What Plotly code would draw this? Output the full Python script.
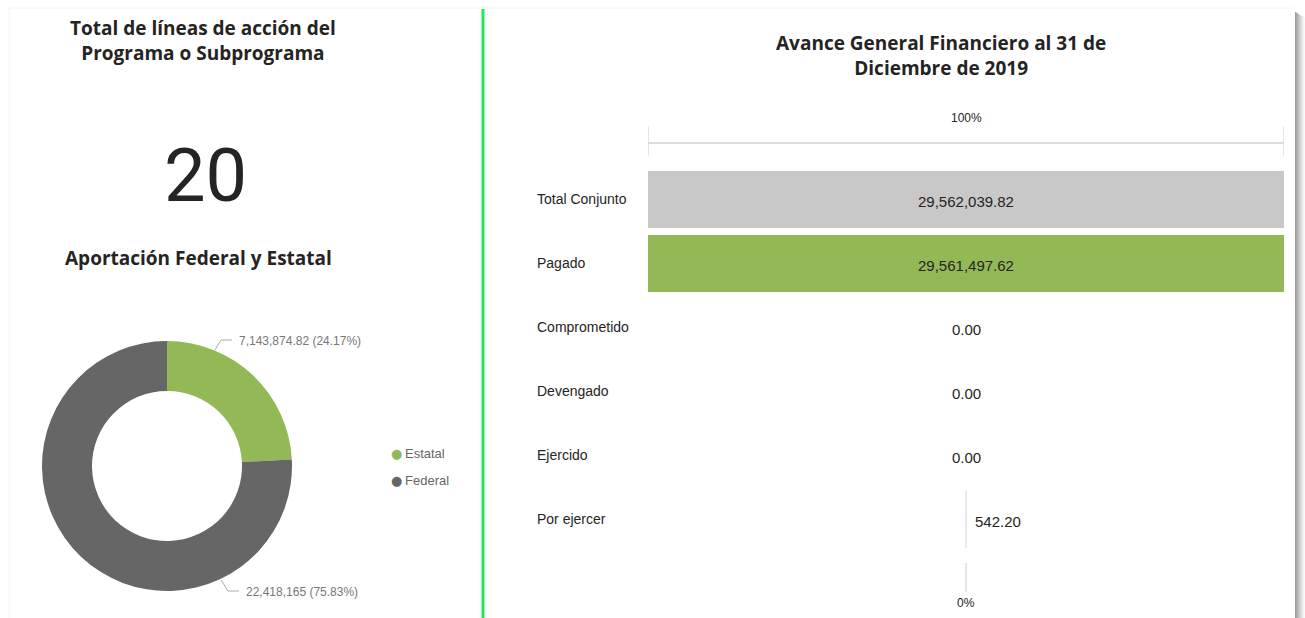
import plotly.graph_objects as go

W, H = 1305, 618

# ---- data ----
total_lineas = 20

aport_labels = ["Estatal", "Federal"]
aport_values = [7143874.82, 22418165]
aport_colors = ["#93B956", "#666666"]

etapas = ["Total Conjunto", "Pagado", "Comprometido", "Devengado", "Ejercido", "Por ejercer"]
montos = [29562039.82, 29561497.62, 0.00, 0.00, 0.00, 542.20]
etapa_colors = ["#C8C8C8", "#93B956", "#93B956", "#93B956", "#93B956", "#C8C8C8"]


def px_x(x):
    return x / W


def px_y(y):
    return 1 - y / H


def fmt_money(v, decimals=2):
    return f"{v:,.{decimals}f}"


def fmt_auto(v):
    return fmt_money(v, 0) if float(v).is_integer() else fmt_money(v, 2)


TITLE_FONT = dict(family="Open Sans", size=19, color="#252423")
LABEL_FONT = "Liberation Sans"

fig = go.Figure()

# ---- donut: federal vs estatal ----
fig.add_trace(go.Pie(
    labels=aport_labels,
    values=aport_values,
    marker=dict(colors=aport_colors, line=dict(width=0)),
    hole=0.6,
    sort=False,
    direction="clockwise",
    rotation=0,
    textinfo="none",
    showlegend=False,
    hoverinfo="label+value+percent",
    domain=dict(x=[px_x(42), px_x(292)], y=[px_y(591), px_y(341)]),
))

# ---- funnel: centred horizontal bars ----
M = max(montos)
fig.add_trace(go.Bar(
    y=etapas,
    x=montos,
    base=[-v / 2 for v in montos],
    orientation="h",
    marker=dict(color=etapa_colors,
                line=dict(color=["rgba(0,0,0,0)"] * 5 + ["#E2E2E2"],
                          width=[0] * 5 + [1])),
    showlegend=False,
    hoverinfo="skip",
))

fig.update_layout(
    width=W, height=H,
    margin=dict(l=0, r=0, t=0, b=0),
    paper_bgcolor="white",
    plot_bgcolor="white",
    bargap=0.11,
    xaxis=dict(domain=[px_x(648), px_x(1284)], range=[-M / 2, M / 2],
               visible=False, fixedrange=True),
    yaxis=dict(domain=[px_y(551.5), px_y(167.5)], type="category",
               categoryorder="array", categoryarray=etapas,
               autorange="reversed", visible=False),
)

ann = []


def add_text(x, y, text, font, xanchor="center", xref="paper", yref="paper", **kw):
    ann.append(dict(x=x, y=y, xref=xref, yref=yref, text=text, showarrow=False,
                    xanchor=xanchor, yanchor="middle", font=font, **kw))


# left panel texts
add_text(px_x(203), px_y(40),
         "<b>Total de líneas de acción del<br>Programa o Subprograma</b>",
         TITLE_FONT, align="center")
add_text(px_x(205), px_y(176), str(total_lineas),
         dict(family="Roboto", size=74, color="#252423"))
add_text(px_x(198), px_y(258), "<b>Aportación Federal y Estatal</b>", TITLE_FONT)

# donut data labels with leader lines
total_aport = sum(aport_values)
pie_lbl_pos = [(237, 341), (244, 592)]
for v, (lx, ly) in zip(aport_values, pie_lbl_pos):
    add_text(px_x(lx), px_y(ly), f"{fmt_auto(v)} ({v / total_aport * 100:.2f}%)",
             dict(family=LABEL_FONT, size=12, color="#777777"), xanchor="left")

# legend
for i, (lab, col) in enumerate(zip(aport_labels, aport_colors)):
    yy = 453 + i * 27
    add_text(px_x(389), px_y(yy), "●",
             dict(family="DejaVu Sans", size=13, color=col), xanchor="left")
    add_text(px_x(403), px_y(yy), lab,
             dict(family=LABEL_FONT, size=13, color="#666666"), xanchor="left")

# right panel title
add_text(px_x(941), px_y(55),
         "<b>Avance General Financiero al 31 de<br>Diciembre de 2019</b>",
         TITLE_FONT, align="center")

# funnel scale labels
add_text(0, px_y(118), "100%", dict(family=LABEL_FONT, size=12, color="#252423"), xref="x")
add_text(0, px_y(603), "0%", dict(family=LABEL_FONT, size=12, color="#252423"), xref="x")

# category labels and values
for et, v in zip(etapas, montos):
    add_text(px_x(535), et, et, dict(family=LABEL_FONT, size=14, color="#252423"),
             xanchor="left", yref="y", yshift=1)
    small = (v > 0) and (v / M < 0.05)
    add_text(0, et, fmt_money(v), dict(family=LABEL_FONT, size=15, color="#252423"),
             xref="x", yref="y", xshift=32 if small else 0, yshift=-2)

fig.update_layout(annotations=ann)

shapes = []
# donut leader lines
shapes.append(dict(type="path", xref="paper", yref="paper",
                   path=f"M {px_x(215)} {px_y(350)} L {px_x(221)} {px_y(340)} L {px_x(232)} {px_y(340)}",
                   line=dict(color="#AAAAAA", width=1)))
shapes.append(dict(type="path", xref="paper", yref="paper",
                   path=f"M {px_x(221)} {px_y(580)} L {px_x(228)} {px_y(591)} L {px_x(239)} {px_y(591)}",
                   line=dict(color="#AAAAAA", width=1)))

# 100% bracket above the funnel
line_c = "#DDDDDD"
shapes.append(dict(type="line", xref="x", yref="paper", x0=-M / 2, x1=M / 2,
                   y0=px_y(143), y1=px_y(143), line=dict(color=line_c, width=2)))
for xe in (-M / 2, M / 2):
    shapes.append(dict(type="line", xref="x", yref="paper", x0=xe, x1=xe,
                       y0=px_y(126), y1=px_y(156), line=dict(color=line_c, width=1.5)))
# 0% stub under the funnel
shapes.append(dict(type="line", xref="x", yref="paper", x0=0, x1=0,
                   y0=px_y(563), y1=px_y(592), line=dict(color="#CCCCCC", width=1)))

# divider between panels
shapes.append(dict(type="line", xref="paper", yref="paper",
                   x0=px_x(483), x1=px_x(483), y0=px_y(9), y1=0,
                   line=dict(color="#1EEA5C", width=3)))

# faint panel edges
shapes.append(dict(type="line", xref="paper", yref="paper",
                   x0=px_x(8), x1=px_x(1294), y0=px_y(8), y1=px_y(8),
                   line=dict(color="#F4F4F4", width=1)))
shapes.append(dict(type="line", xref="paper", yref="paper",
                   x0=px_x(9), x1=px_x(9), y0=px_y(8), y1=0,
                   line=dict(color="#F4F4F4", width=1)))

# drop shadow along the right edge
shadow = ["#9E9E9E", "#A8A8A8", "#B3B3B3", "#BEBEBE", "#C9C9C9",
          "#D4D4D4", "#DFDFDF", "#E9E9E9", "#F2F2F2", "#F9F9F9"]
for k, c in enumerate(shadow):
    shapes.append(dict(type="rect", xref="paper", yref="paper",
                       x0=px_x(1295 + k), x1=px_x(1296 + k),
                       y0=0, y1=px_y(12 + k * 0.6),
                       line=dict(width=0), fillcolor=c, layer="below"))

fig.update_layout(shapes=shapes)

fig.write_html("out.html")
